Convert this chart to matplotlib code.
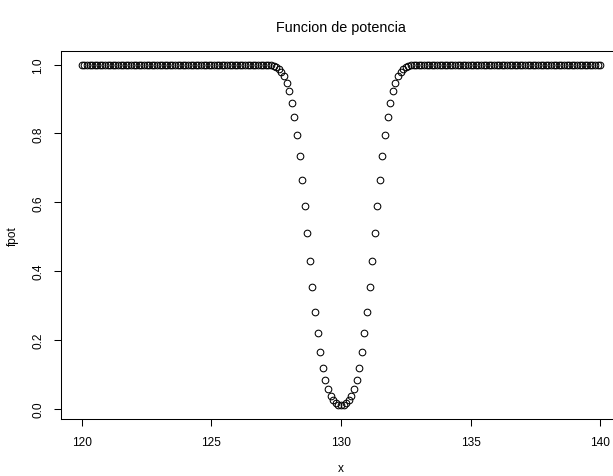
import numpy as np
import matplotlib
matplotlib.use('Agg')
import matplotlib.pyplot as plt

plt.rcParams['font.family'] = ['Liberation Sans', 'DejaVu Sans']

# funcion de potencia, x de 120 a 140 cada 0.1
x_start = 120.0
x_step = 0.1
fpot = [
    1.0, 1.0, 1.0, 1.0, 1.0, 1.0, 1.0, 1.0, 1.0, 1.0,
    1.0, 1.0, 1.0, 1.0, 1.0, 1.0, 1.0, 1.0, 1.0, 1.0,
    1.0, 1.0, 1.0, 1.0, 1.0, 1.0, 1.0, 1.0, 1.0, 1.0,
    1.0, 1.0, 1.0, 1.0, 1.0, 1.0, 1.0, 1.0, 1.0, 1.0,
    1.0, 1.0, 1.0, 1.0, 1.0, 1.0, 1.0, 1.0, 1.0, 1.0,
    1.0, 1.0, 1.0, 1.0, 1.0, 1.0, 1.0, 1.0, 1.0, 1.0,
    1.0, 1.0, 1.0, 1.0, 1.0, 1.0, 1.0, 1.0, 1.0, 1.0,
    0.9997, 0.9994, 0.9988, 0.9976, 0.9957, 0.9923, 0.9869, 0.9785, 0.9659, 0.9478,
    0.9228, 0.8895, 0.8471, 0.7950, 0.7337, 0.6642, 0.5886, 0.5096, 0.4301, 0.3535,
    0.2823, 0.2189, 0.1645, 0.1198, 0.0845, 0.0577, 0.0383, 0.0248, 0.0162, 0.0115,
    0.0100, 0.0115, 0.0162, 0.0248, 0.0383, 0.0577, 0.0845, 0.1198, 0.1645, 0.2189,
    0.2823, 0.3535, 0.4301, 0.5096, 0.5886, 0.6642, 0.7337, 0.7950, 0.8471, 0.8895,
    0.9228, 0.9478, 0.9659, 0.9785, 0.9869, 0.9923, 0.9957, 0.9976, 0.9988, 0.9994,
    0.9997, 1.0, 1.0, 1.0, 1.0, 1.0, 1.0, 1.0, 1.0, 1.0,
    1.0, 1.0, 1.0, 1.0, 1.0, 1.0, 1.0, 1.0, 1.0, 1.0,
    1.0, 1.0, 1.0, 1.0, 1.0, 1.0, 1.0, 1.0, 1.0, 1.0,
    1.0, 1.0, 1.0, 1.0, 1.0, 1.0, 1.0, 1.0, 1.0, 1.0,
    1.0, 1.0, 1.0, 1.0, 1.0, 1.0, 1.0, 1.0, 1.0, 1.0,
    1.0, 1.0, 1.0, 1.0, 1.0, 1.0, 1.0, 1.0, 1.0, 1.0,
    1.0, 1.0, 1.0, 1.0, 1.0, 1.0, 1.0, 1.0, 1.0, 1.0,
    1.0,
]
x = np.round(x_start + x_step * np.arange(len(fpot)), 1)

xticks = [120, 125, 130, 135, 140]
yticks = [0.0, 0.2, 0.4, 0.6, 0.8, 1.0]

W, H = 613, 477
fig = plt.figure(figsize=(W / 100, H / 100), dpi=100)
# el grafico original esta recortado por la derecha
ax = fig.add_axes([61 / W, 1 - 420 / H, 560 / W, 368 / H])

ax.plot(x, fpot, linestyle='none', marker='o', markersize=4.8,
        markerfacecolor='none', markeredgecolor='black', markeredgewidth=0.75)

# limites como en R (4% extra)
ax.set_xlim(119.2, 140.8)
ax.set_ylim(-0.0296, 1.0396)

ax.set_xticks(xticks)
ax.set_xticklabels([str(t) for t in xticks])
ax.set_yticks(yticks)
ax.set_yticklabels(['%.1f' % t for t in yticks], rotation=90, va='center')
ax.tick_params(direction='out', length=5, width=0.75, labelsize=8.6, pad=7)
for s in ax.spines.values():
    s.set_linewidth(0.75)

fig.text(341 / W, 1 - 28 / H, 'Funcion de potencia', ha='center', va='center', fontsize=10.4)
fig.text(341 / W, 1 - 469 / H, 'x', ha='center', va='center', fontsize=8.6)
fig.text(13 / W, 1 - 236 / H, 'fpot', ha='center', va='center', fontsize=8.6, rotation=90)

fig.savefig('out.png', dpi=100)
